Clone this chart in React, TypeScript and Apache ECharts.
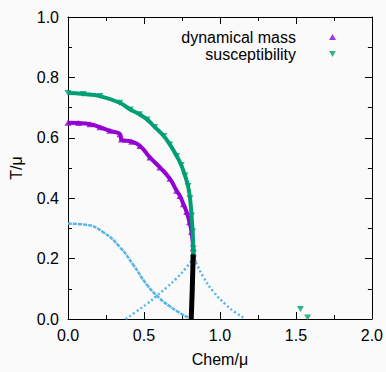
import React, { useEffect, useRef } from 'react';
import * as echarts from 'echarts';

// [Chem/mu, T/mu]
const dynamicalMass: number[][] = [
  [0.0, 0.650], [0.07, 0.649], [0.145, 0.645], [0.21, 0.635], [0.276, 0.623],
  [0.342, 0.612], [0.352, 0.594], [0.419, 0.587], [0.474, 0.573], [0.539, 0.535],
  [0.605, 0.502], [0.671, 0.464], [0.715, 0.425], [0.737, 0.407], [0.76, 0.38],
  [0.781, 0.354], [0.80, 0.32], [0.813, 0.288], [0.824, 0.234], [0.826, 0.20],
];
const susceptibility: number[][] = [
  [0.0, 0.748], [0.1, 0.745], [0.21, 0.738], [0.34, 0.716], [0.41, 0.694],
  [0.47, 0.678], [0.52, 0.661], [0.57, 0.636], [0.63, 0.606], [0.67, 0.578],
  [0.715, 0.540], [0.745, 0.51], [0.77, 0.475], [0.79, 0.44], [0.803, 0.40],
  [0.813, 0.343], [0.82, 0.29], [0.824, 0.234], [0.825, 0.20],
];
const susceptibilityOutliers: number[][] = [[1.53, 0.033], [1.577, 0.005]];
const blueCurve1: number[][] = [
  [0.0, 0.316], [0.12, 0.312], [0.23, 0.288], [0.34, 0.239], [0.43, 0.179],
  [0.52, 0.113], [0.6, 0.07], [0.67, 0.042], [0.73, 0.022], [0.79, 0.005],
];
const blueCurve2: number[][] = [
  [0.38, 0.0], [0.45, 0.025], [0.52, 0.05], [0.58, 0.075], [0.65, 0.105],
  [0.715, 0.135], [0.77, 0.165], [0.824, 0.20],
];
const blueCurve3: number[][] = [
  [0.826, 0.20], [0.844, 0.184], [0.89, 0.14], [0.956, 0.091], [1.04, 0.047],
  [1.1, 0.022], [1.153, 0.005],
];
const blackBand: number[][] = [[0.811, 0.0], [0.818, 0.1], [0.824, 0.214]];

const xTickLabels = ['0.0', '0.5', '1.0', '1.5', '2.0'];
const yTickLabels = ['0.0', '0.2', '0.4', '0.6', '0.8', '1.0'];

const FONT = 'Liberation Sans, Arial, sans-serif';
const PURPLE = '#9400d3';
const GREEN = '#009e73';
const BLUE = '#56b4e9';
const DOWN_TRI = 'path://M0,0L10,0L5,9Z';

export default function App() {
  const ref = useRef<HTMLDivElement>(null);
  useEffect(() => {
    if (!ref.current) return;
    const chart = echarts.init(ref.current, undefined, { renderer: 'svg' });
    const baseAxis = (show: boolean) => ({
      type: 'value' as const,
      axisLine: { show: true, onZero: false, lineStyle: { color: '#000', width: 1 } },
      axisTick: { show: true, inside: true, length: 7, lineStyle: { color: '#000', width: 1 } },
      minorTick: { show: true, splitNumber: 2, length: 4, lineStyle: { color: '#000', width: 1 } },
      splitLine: { show: false },
      axisLabel: { show, fontSize: 16, color: '#000', fontFamily: FONT, margin: 9 },
    });
    chart.setOption({
      animation: false,
      backgroundColor: '#fafafa',
      textStyle: { fontFamily: FONT },
      grid: { left: 68, right: 14, top: 17, bottom: 51 },
      legend: {
        orient: 'vertical',
        right: 45,
        top: 24,
        align: 'right',
        itemWidth: 7,
        itemHeight: 6,
        itemGap: 1,
        data: ['dynamical mass', 'susceptibility'],
        textStyle: { fontSize: 16, color: '#000', fontFamily: FONT, lineHeight: 16, padding: [0, 28, 0, 0] },
      },
      xAxis: [
        {
          ...baseAxis(true), min: 0, max: 2, interval: 0.5, position: 'bottom',
          axisLabel: { ...baseAxis(true).axisLabel, margin: 8, formatter: (v: number) => xTickLabels[Math.round(v / 0.5)] ?? '' },
          name: 'Chem/μ', nameLocation: 'middle', nameGap: 32,
          nameTextStyle: { fontSize: 16, color: '#000', fontFamily: FONT },
        },
        { ...baseAxis(false), min: 0, max: 2, interval: 0.5, position: 'top' },
      ],
      yAxis: [
        {
          ...baseAxis(true), min: 0, max: 1, interval: 0.2, position: 'left',
          axisLabel: { ...baseAxis(true).axisLabel, formatter: (v: number) => yTickLabels[Math.round(v / 0.2)] ?? '' },
          name: 'T/μ', nameLocation: 'middle', nameGap: 44, nameRotate: 90,
          nameTextStyle: { fontSize: 16, color: '#000', fontFamily: FONT },
        },
        { ...baseAxis(false), min: 0, max: 1, interval: 0.2, position: 'right' },
      ],
      series: [
        { type: 'line', data: blueCurve1, smooth: true, symbol: 'none', lineStyle: { color: BLUE, width: 2.5, type: [4, 1] }, silent: true },
        { type: 'line', data: blueCurve2, smooth: true, symbol: 'none', lineStyle: { color: BLUE, width: 2.5, type: [2, 2.5] }, silent: true },
        { type: 'line', data: blueCurve3, smooth: true, symbol: 'none', lineStyle: { color: BLUE, width: 2.5, type: [2, 2.5] }, silent: true },
        { type: 'line', data: dynamicalMass, smooth: true, symbol: 'none', lineStyle: { color: PURPLE, width: 4 }, silent: true },
        { name: 'dynamical mass', type: 'scatter', data: dynamicalMass, symbol: 'triangle', symbolSize: [7, 6], itemStyle: { color: PURPLE } },
        { type: 'line', data: susceptibility, smooth: true, symbol: 'none', lineStyle: { color: GREEN, width: 4 }, silent: true },
        { name: 'susceptibility', type: 'scatter', data: susceptibility, symbol: DOWN_TRI, symbolSize: [7, 6], itemStyle: { color: GREEN } },
        { name: 'susceptibility', type: 'scatter', data: susceptibilityOutliers, symbol: DOWN_TRI, symbolSize: [7, 6], itemStyle: { color: GREEN } },
        { type: 'line', data: blackBand, symbol: 'none', lineStyle: { color: '#000', width: 5 }, silent: true },
      ],
    });
    return () => chart.dispose();
  }, []);
  return <div ref={ref} style={{ position: 'fixed', left: 0, top: 0, width: 386, height: 372 }} />;
}
